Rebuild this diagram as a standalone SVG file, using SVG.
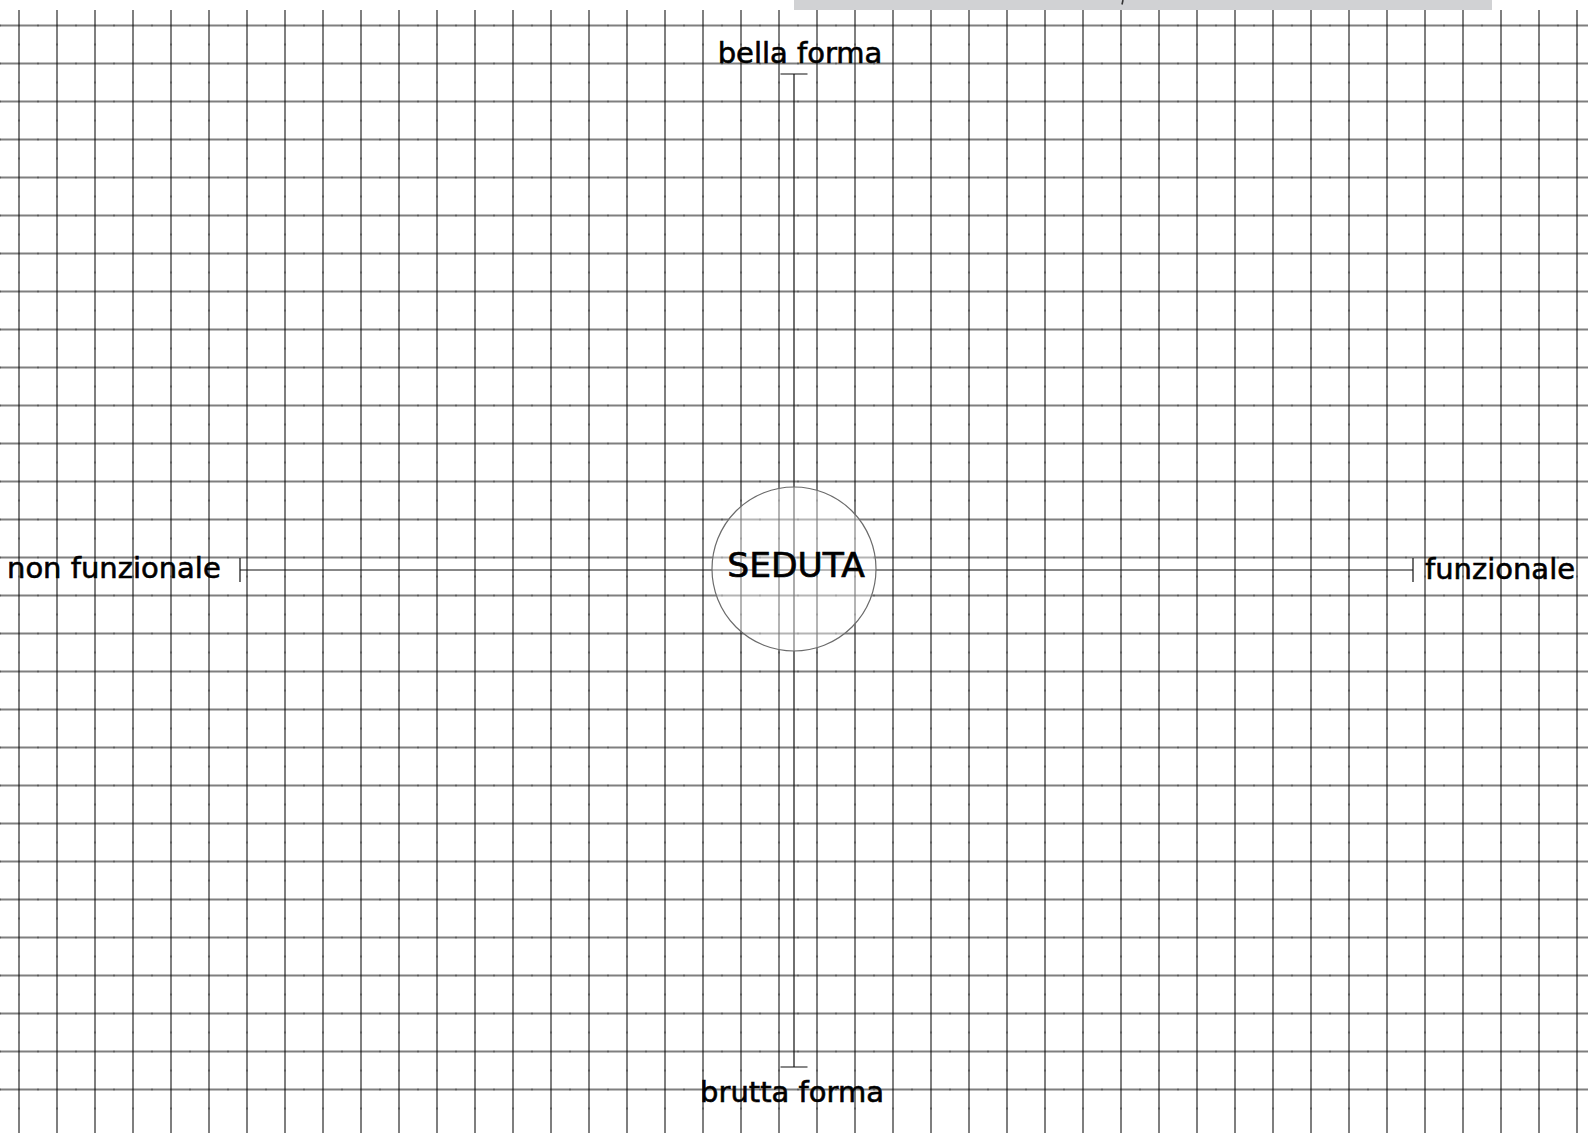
<svg xmlns="http://www.w3.org/2000/svg" width="1588" height="1133" viewBox="0 0 1588 1133">
  <style>
    .grid { fill: none; stroke: #000; stroke-opacity: 0.5; stroke-width: 2; }
    .spot { fill: none; stroke: #000; stroke-opacity: 0.28; stroke-width: 2; stroke-dasharray: 2 36; }
    .axis { fill: none; stroke: #111; stroke-width: 1.2; }
    .label { font-family: "DejaVu Sans", "Liberation Sans", sans-serif; font-size: 29px; fill: #000; stroke: #000; stroke-width: 0.6; }
    .title { font-family: "DejaVu Sans", "Liberation Sans", sans-serif; font-size: 34.5px; fill: #000; stroke: #000; stroke-width: 0.7; }
  </style>
  <rect x="0" y="0" width="1588" height="1133" fill="#ffffff"/>
  <rect x="794" y="0" width="698" height="10" fill="#d1d2d4"/>
  <line x1="1123" y1="0" x2="1122" y2="4.5" stroke="#333" stroke-width="1.6"/>
  <g id="grid">
    <path class="grid" d="M19 10v1123m38-1123v1123m38-1123v1123m38-1123v1123m38-1123v1123m38-1123v1123m38-1123v1123m38-1123v1123m38-1123v1123m38-1123v1123m38-1123v1123m38-1123v1123m38-1123v1123m38-1123v1123m38-1123v1123m38-1123v1123m38-1123v1123m38-1123v1123m38-1123v1123m38-1123v1123m38-1123v1123m38-1123v1123m38-1123v1123m38-1123v1123m38-1123v1123m38-1123v1123m38-1123v1123m38-1123v1123m38-1123v1123m38-1123v1123m38-1123v1123m38-1123v1123m38-1123v1123m38-1123v1123m38-1123v1123m38-1123v1123m38-1123v1123m38-1123v1123m38-1123v1123m38-1123v1123m38-1123v1123m38-1123v1123"/>
    <path class="grid" d="M0 25.5h1588m-1588 38h1588m-1588 38h1588m-1588 38h1588m-1588 38h1588m-1588 38h1588m-1588 38h1588m-1588 38h1588m-1588 38h1588m-1588 38h1588m-1588 38h1588m-1588 38h1588m-1588 38h1588m-1588 38h1588m-1588 38h1588m-1588 38h1588m-1588 38h1588m-1588 38h1588m-1588 38h1588m-1588 38h1588m-1588 38h1588m-1588 38h1588m-1588 38h1588m-1588 38h1588m-1588 38h1588m-1588 38h1588m-1588 38h1588m-1588 38h1588m-1588 38h1588"/>
    <path class="spot" stroke-dashoffset="4.5" d="M19 10v1123m38-1123v1123m38-1123v1123m38-1123v1123m38-1123v1123m38-1123v1123m38-1123v1123m38-1123v1123m38-1123v1123m38-1123v1123m38-1123v1123m38-1123v1123m38-1123v1123m38-1123v1123m38-1123v1123m38-1123v1123m38-1123v1123m38-1123v1123m38-1123v1123m38-1123v1123m38-1123v1123m38-1123v1123m38-1123v1123m38-1123v1123m38-1123v1123m38-1123v1123m38-1123v1123m38-1123v1123m38-1123v1123m38-1123v1123m38-1123v1123m38-1123v1123m38-1123v1123m38-1123v1123m38-1123v1123m38-1123v1123m38-1123v1123m38-1123v1123m38-1123v1123m38-1123v1123m38-1123v1123m38-1123v1123"/>
    <path class="spot" stroke-dashoffset="1" d="M0 25.5h1588m-1588 38h1588m-1588 38h1588m-1588 38h1588m-1588 38h1588m-1588 38h1588m-1588 38h1588m-1588 38h1588m-1588 38h1588m-1588 38h1588m-1588 38h1588m-1588 38h1588m-1588 38h1588m-1588 38h1588m-1588 38h1588m-1588 38h1588m-1588 38h1588m-1588 38h1588m-1588 38h1588m-1588 38h1588m-1588 38h1588m-1588 38h1588m-1588 38h1588m-1588 38h1588m-1588 38h1588m-1588 38h1588m-1588 38h1588m-1588 38h1588m-1588 38h1588"/>
  </g>
  <g id="connectors">
    <path class="axis" d="M794 74V1067M780.5 74H807.5M780.5 1067H807.5"/>
    <path class="axis" d="M240 570H1413M240 558V582M1413 558V582"/>
  </g>
  <g id="node-seduta">
    <circle cx="794" cy="569" r="82" fill="#ffffff" fill-opacity="0.42" stroke="#6b6b6b" stroke-width="1.2"/>
    <text class="title" x="796" y="577" text-anchor="middle">SEDUTA</text>
  </g>
  <g id="node-bella-forma">
    <text class="label" x="800" y="63" text-anchor="middle">bella forma</text>
  </g>
  <g id="node-brutta-forma">
    <text class="label" x="792" y="1102" text-anchor="middle">brutta forma</text>
  </g>
  <g id="node-non-funzionale">
    <text class="label" x="7" y="578">non funzionale</text>
  </g>
  <g id="node-funzionale">
    <text class="label" x="1425" y="579">funzionale</text>
  </g>
</svg>
